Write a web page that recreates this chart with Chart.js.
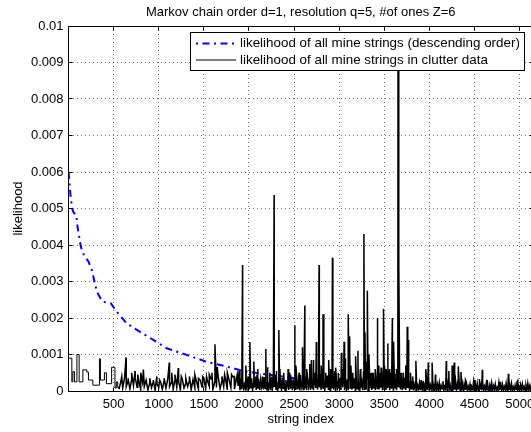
<!DOCTYPE html>
<html>
<head>
<meta charset="utf-8">
<script src="https://cdn.jsdelivr.net/npm/chart.js@4/dist/chart.umd.min.js"></script>
<style>
  html, body { margin: 0; padding: 0; background: #fff; overflow: hidden; }
  canvas { display: block; }
</style>
</head>
<body>
<!-- axes box runs a couple of pixels past the right edge of the window -->
<canvas id="chart" width="533" height="432"></canvas>
<script>
// likelihood of every mine string, sorted high -> low (string index, value)
const mineIdx = [1, 10, 25, 40, 55, 88, 100, 137, 175, 221, 260, 314, 375, 470, 535, 646, 793, 940,
  1088, 1310, 1531, 1752, 1918, 2120, 2305, 2508, 2637, 2876, 3042, 3208, 3393, 3614, 3824, 4123, 4488, 4800];
const mineVal = [0.0060, 0.0057, 0.0053, 0.0050, 0.0049, 0.0048, 0.0045, 0.00395, 0.0037, 0.00355, 0.0033,
  0.00272, 0.00245, 0.0024, 0.00217, 0.00185, 0.00162, 0.0014, 0.00117, 0.00099, 0.0008, 0.00067, 0.00056,
  0.00048, 0.00042, 0.00035, 0.0003, 0.00026, 0.00023, 0.00019, 0.00016, 0.00014, 0.0001, 0.00007, 0.00005, 0.00003];

// clutter data, first strings come in flat runs (start index, value)
const runStart = [0, 37, 48, 66, 93, 118, 159, 203, 221, 270, 343, 354, 398, 420, 478, 515, 530, 545];
const runVal = [0.0009, 0.00025, 0.00053, 0.00025, 0.001, 0.00025, 0.00058, 0.00052, 0.0003, 0.00016,
  0.00088, 0.0003, 0.0005, 0.0002, 0.00065, 0.00008, 0.00025, 0.0001];

// clutter floor, one value every 20 strings from 560
const floorMidFrom = 560;
const floorMid = [
  0.00005, 0.00026, 0.00008, 0.00033, 0.00012, 0.00028, 0.00006, 0.00031, 0.00015, 0.00036,
  0.00010, 0.00027, 0.00004, 0.00024, 0.00012, 0.00030, 0.00003, 0.00022, 0.00009, 0.00026,
  0.00002, 0.00020, 0.00010, 0.00025, 0.00004, 0.00029, 0.00008, 0.00033, 0.00012, 0.00023,
  0.00005, 0.00031, 0.00010, 0.00027, 0.00003, 0.00034, 0.00008, 0.00021, 0.00012, 0.00028,
  0.00004, 0.00032, 0.00009, 0.00025, 0.00005, 0.00030, 0.00011, 0.00036, 0.00006, 0.00028,
  0.00013, 0.00033, 0.00004, 0.00024, 0.00010, 0.00038, 0.00006, 0.00027, 0.00012, 0.00034,
  0.00003, 0.00030, 0.00009, 0.00039, 0.00005, 0.00032, 0.00014
];

// clutter floor, one value every 10 strings from 1900
const floorDenseFrom = 1900;
const floorDense = [
  0.00002, 0.00021, 0.00005, 0.00030, 0.00008, 0.00018, 0.00003, 0.00026, 0.00011, 0.00040,
  0.00004, 0.00022, 0.00007, 0.00035, 0.00002, 0.00019, 0.00009, 0.00028, 0.00003, 0.00045,
  0.00006, 0.00024, 0.00002, 0.00031, 0.00010, 0.00020, 0.00004, 0.00038, 0.00007, 0.00025,
  0.00003, 0.00029, 0.00008, 0.00022, 0.00002, 0.00034, 0.00006, 0.00018, 0.00011, 0.00042,
  0.00005, 0.00027, 0.00002, 0.00033, 0.00009, 0.00021, 0.00004, 0.00036, 0.00007, 0.00024,
  0.00002, 0.00030, 0.00010, 0.00019, 0.00003, 0.00050, 0.00006, 0.00026, 0.00002, 0.00032,
  0.00008, 0.00023, 0.00003, 0.00037, 0.00005, 0.00028, 0.00002, 0.00044, 0.00009, 0.00020,
  0.00004, 0.00033, 0.00007, 0.00025, 0.00002, 0.00039, 0.00011, 0.00022, 0.00003, 0.00030,
  0.00006, 0.00027, 0.00002, 0.00035, 0.00008, 0.00048, 0.00004, 0.00024, 0.00010, 0.00031,
  0.00003, 0.00038, 0.00006, 0.00021, 0.00002, 0.00029, 0.00009, 0.00042, 0.00005, 0.00026,
  0.00002, 0.00034, 0.00007, 0.00023, 0.00004, 0.00055, 0.00002, 0.00030, 0.00008, 0.00019,
  0.00005, 0.00036, 0.00003, 0.00027, 0.00010, 0.00040, 0.00002, 0.00024, 0.00006, 0.00033,
  0.00002, 0.00028, 0.00008, 0.00046, 0.00004, 0.00022, 0.00007, 0.00035, 0.00002, 0.00026,
  0.00006, 0.00031, 0.00003, 0.00038, 0.00009, 0.00024, 0.00002, 0.00052, 0.00005, 0.00029,
  0.00004, 0.00034, 0.00002, 0.00025, 0.00008, 0.00041, 0.00003, 0.00027, 0.00006, 0.00036,
  0.00002, 0.00030, 0.00007, 0.00044, 0.00004, 0.00023, 0.00009, 0.00032, 0.00002, 0.00058,
  0.00005, 0.00026, 0.00003, 0.00035, 0.00008, 0.00021, 0.00002, 0.00039, 0.00006, 0.00028,
  0.00003, 0.00047, 0.00007, 0.00024, 0.00002, 0.00033, 0.00010, 0.00026, 0.00004, 0.00043,
  0.00002, 0.00029, 0.00006, 0.00036, 0.00003, 0.00022, 0.00008, 0.00031, 0.00002, 0.00019,
  0.00004, 0.00025, 0.00002, 0.00018, 0.00006, 0.00030, 0.00002, 0.00015, 0.00005, 0.00022,
  0.00002, 0.00017, 0.00004, 0.00028, 0.00002, 0.00014, 0.00006, 0.00021, 0.00003, 0.00035,
  0.00002, 0.00016, 0.00005, 0.00024, 0.00002, 0.00013, 0.00004, 0.00030, 0.00002, 0.00018,
  0.00003, 0.00022, 0.00002, 0.00015, 0.00006, 0.00027, 0.00002, 0.00012, 0.00004, 0.00020,
  0.00002, 0.00032, 0.00005, 0.00016, 0.00002, 0.00023, 0.00003, 0.00014, 0.00006, 0.00028,
  0.00002, 0.00019, 0.00004, 0.00025, 0.00002, 0.00012, 0.00005, 0.00021, 0.00002, 0.00016,
  0.00003, 0.00024, 0.00002, 0.00013, 0.00004, 0.00019, 0.00002, 0.00011, 0.00005, 0.00026,
  0.00002, 0.00015, 0.00003, 0.00021, 0.00002, 0.00012, 0.00004, 0.00018, 0.00002, 0.00024,
  0.00003, 0.00013, 0.00002, 0.00020, 0.00004, 0.00011, 0.00002, 0.00017, 0.00003, 0.00022,
  0.00002, 0.00014, 0.00004, 0.00019, 0.00002, 0.00010, 0.00003, 0.00023, 0.00002, 0.00015,
  0.00003, 0.00018, 0.00002, 0.00012, 0.00004, 0.00021, 0.00002, 0.00014, 0.00003, 0.00017,
  0.00002, 0.00020, 0.00003, 0.00011, 0.00002, 0.00016, 0.00004, 0.00024, 0.00002, 0.00013,
  0.00003, 0.00017, 0.00002, 0.00019, 0.00004, 0.00012, 0.00002, 0.00015, 0.00003, 0.00021,
  0.00002, 0.00014, 0.00003, 0.00018, 0.00002
];

// single clutter strings standing well out of the floor (string index, value)
const peakIdx = [638, 700, 738, 768, 830, 978, 1117, 1144, 1217, 1486, 1623, 1648, 1807, 1836,
  1929, 1965, 2010, 2054, 2076, 2187, 2231, 2279, 2331, 2343, 2434, 2508, 2520, 2593, 2619, 2674,
  2692, 2711, 2747, 2777, 2821, 2884, 2925, 2961, 3024, 3054, 3069, 3100, 3116, 3130, 3182, 3208,
  3274, 3286, 3312, 3330, 3354, 3420, 3432, 3465, 3491, 3502, 3539, 3558, 3589, 3603, 3617, 3652,
  3661, 3687, 3754, 3768, 3815, 3850, 3908, 3960, 3987, 4030, 4067, 4187, 4215, 4252, 4275, 4320,
  4350, 4400, 4505, 4550, 4586, 4640, 4786, 4875, 4978];
const peakVal = [0.00092, 0.0005, 0.00055, 0.00045, 0.00059, 0.0004, 0.00078, 0.0005, 0.00063, 0.0004,
  0.00128, 0.00066, 0.00045, 0.0004,
  0.00345, 0.0007, 0.00134, 0.00081, 0.0004, 0.00115, 0.0005, 0.00537, 0.00167, 0.0006, 0.0006,
  0.0018, 0.0007, 0.0012, 0.00234, 0.00074, 0.00085, 0.00085, 0.00134, 0.00345, 0.0021, 0.00085,
  0.00365, 0.00064, 0.00105, 0.00135, 0.0009, 0.0021, 0.0015, 0.0007, 0.00095, 0.0011, 0.0043,
  0.0016, 0.00275, 0.001, 0.0005, 0.002, 0.0007, 0.00064, 0.00225, 0.0007, 0.0013, 0.0006, 0.002,
  0.00135, 0.0004, 0.0095, 0.0035, 0.0005, 0.00176, 0.0014, 0.0004, 0.00083, 0.0003, 0.0006,
  0.00078, 0.00078, 0.00045, 0.00082, 0.00055, 0.0007, 0.00078, 0.00068, 0.00052, 0.0003, 0.0003,
  0.00033, 0.00058, 0.0003, 0.00025, 0.00047, 0.00028];

// smaller bumps just above the floor (string index, value)
const bumpIdx = [590, 660, 800, 860, 900, 940, 1010, 1060, 1180, 1250, 1300, 1340, 1400, 1440, 1530,
  1560, 1590, 1700, 1730, 1760, 1870, 1890, 2095, 2150, 2205, 2255, 2300, 2385, 2460, 2555, 2640,
  2725, 2800, 2850, 2905, 2990, 3045, 3150, 3235, 3300, 3375, 3400, 3450, 3520, 3570, 3630, 3710,
  3735, 3790];
const bumpVal = [0.0004, 0.00035, 0.0005, 0.0003, 0.00035, 0.0003, 0.0003, 0.00035, 0.00045, 0.0004,
  0.00035, 0.0004, 0.00045, 0.00035, 0.0004, 0.00045, 0.0005, 0.0004, 0.00045, 0.0005, 0.00045,
  0.00055, 0.0006, 0.0004, 0.00065, 0.0004, 0.00055, 0.0005, 0.00045, 0.0005, 0.0006, 0.0005,
  0.0007, 0.0005, 0.0006, 0.0005, 0.0006, 0.0005, 0.0006, 0.0008, 0.0005, 0.0006, 0.0005, 0.0006,
  0.0005, 0.0006, 0.0005, 0.0007, 0.0005];

const xTicks = [500, 1000, 1500, 2000, 2500, 3000, 3500, 4000, 4500, 5000];
const yTicks = [0, 0.001, 0.002, 0.003, 0.004, 0.005, 0.006, 0.007, 0.008, 0.009, 0.01];

const FONT = '"Liberation Sans", Arial, Helvetica, sans-serif';
const FS = 13;

// build point lists
const minePts = mineIdx.map((x, i) => ({ x: x, y: mineVal[i] }));

const runPts = runStart.map((x, i) => ({ x: x, y: runVal[i] }));
runPts.push({ x: floorMidFrom, y: floorMid[0] });

const spikyPts = [];
floorMid.forEach((v, i) => spikyPts.push({ x: floorMidFrom + i * 20, y: v }));
floorDense.forEach((v, i) => spikyPts.push({ x: floorDenseFrom + i * 10, y: v }));
peakIdx.forEach((x, i) => spikyPts.push({ x: x, y: peakVal[i] }));
bumpIdx.forEach((x, i) => spikyPts.push({ x: x, y: bumpVal[i] }));
spikyPts.sort((a, b) => a.x - b.x);

// matlab style box with inward ticks on all four sides
const axesFrame = {
  id: "axesFrame",
  afterDatasetsDraw(chart) {
    const { ctx, chartArea: a, scales } = chart;
    const al = (v) => Math.floor(v) + 0.5;
    const L = al(a.left), R = al(a.right), T = al(a.top), B = al(a.bottom);
    ctx.save();
    ctx.strokeStyle = "#000";
    ctx.lineWidth = 1;
    ctx.beginPath();
    ctx.rect(L, T, R - L, B - T);
    xTicks.forEach((v) => {
      const px = al(scales.x.getPixelForValue(v));
      ctx.moveTo(px, B); ctx.lineTo(px, B - 4);
      ctx.moveTo(px, T); ctx.lineTo(px, T + 4);
    });
    yTicks.forEach((v) => {
      const py = al(scales.y.getPixelForValue(v));
      ctx.moveTo(L, py); ctx.lineTo(L + 4, py);
      ctx.moveTo(R, py); ctx.lineTo(R - 4, py);
    });
    ctx.stroke();
    ctx.restore();
  },
};

// legend box in the upper right corner of the axes
const legendBox = {
  id: "legendBox",
  afterDraw(chart) {
    const { ctx } = chart;
    const items = chart.data.datasets.filter((d) => d.legendRow !== undefined)
      .sort((a, b) => a.legendRow - b.legendRow);
    ctx.save();
    ctx.fillStyle = "#fff";
    ctx.fillRect(190.5, 32.5, 334, 38);
    ctx.strokeStyle = "#000";
    ctx.lineWidth = 1;
    ctx.strokeRect(190.5, 32.5, 334, 38);
    items.forEach((d, i) => {
      const y = 43.5 + i * 16.5;
      ctx.beginPath();
      ctx.strokeStyle = d.borderColor;
      ctx.lineWidth = d.legendRow === 0 ? 2 : 1;
      ctx.setLineDash(d.borderDash || []);
      ctx.lineDashOffset = d.borderDash ? 11.5 : 0; // sample starts on the dot
      ctx.moveTo(196, y);
      ctx.lineTo(236, y);
      ctx.stroke();
      ctx.setLineDash([]);
      ctx.fillStyle = "#000";
      ctx.font = "13.4px " + FONT;
      ctx.textBaseline = "middle";
      ctx.fillText(d.label, 240, y);
    });
    ctx.restore();
  },
};

const ctx = document.getElementById("chart").getContext("2d");
new Chart(ctx, {
  type: "line",
  data: {
    datasets: [
      {
        label: "likelihood of all mine strings (descending order)",
        legendRow: 0,
        data: minePts,
        borderColor: "#0000ff",
        borderWidth: 2,
        borderDash: [7, 4.5, 2, 4.5],
        pointRadius: 0,
        order: 3,
      },
      {
        label: "likelihood of all mine strings in clutter data",
        legendRow: 1,
        data: spikyPts,
        borderColor: "#000",
        borderWidth: 1.5,
        pointRadius: 0,
        order: 1,
      },
      {
        label: "clutter runs",
        data: runPts,
        borderColor: "#000",
        borderWidth: 1,
        stepped: true,
        pointRadius: 0,
        order: 2,
      },
    ],
  },
  options: {
    responsive: false,
    animation: false,
    layout: { padding: 0 },
    elements: { line: { tension: 0, borderCapStyle: "butt" } },
    plugins: {
      legend: { display: false },
      tooltip: { enabled: false },
      title: {
        display: true,
        fullSize: false,
        text: "Markov chain order d=1, resolution q=5, #of ones Z=6",
        color: "#000",
        font: { family: FONT, size: FS, weight: "normal" },
        padding: { top: 4.2, bottom: 6.2 },
      },
    },
    scales: {
      x: {
        type: "linear",
        min: 0,
        max: 5148,
        afterBuildTicks: (s) => { s.ticks = xTicks.map((v) => ({ value: v })); },
        afterFit: (s) => { s.height = 41; s.paddingLeft = 0; s.paddingRight = 0; },
        ticks: {
          color: "#000",
          padding: 5.5,
          maxRotation: 0,
          font: { family: FONT, size: FS },
          callback: (v) => String(v),
        },
        grid: { color: "rgba(0,0,0,0.55)", drawTicks: false, lineWidth: 1 },
        border: { display: false, dash: [1, 3] },
        title: {
          display: true,
          text: "string index",
          color: "#000",
          font: { family: FONT, size: FS },
          padding: { top: 0, bottom: 4.7 },
        },
      },
      y: {
        min: 0,
        max: 0.01,
        afterBuildTicks: (s) => { s.ticks = yTicks.map((v) => ({ value: v })); },
        afterFit: (s) => { s.width = 68.5; },
        ticks: {
          color: "#000",
          padding: 5,
          font: { family: FONT, size: FS },
          callback: (v) => String(+v.toFixed(4)),
        },
        grid: { color: "rgba(0,0,0,0.55)", drawTicks: false, lineWidth: 1 },
        border: { display: false, dash: [1, 3] },
        title: {
          display: true,
          text: "likelihood",
          color: "#000",
          font: { family: FONT, size: FS },
          padding: { top: 10.2, bottom: 0 },
        },
      },
    },
  },
  plugins: [axesFrame, legendBox],
});
</script>
</body>
</html>
